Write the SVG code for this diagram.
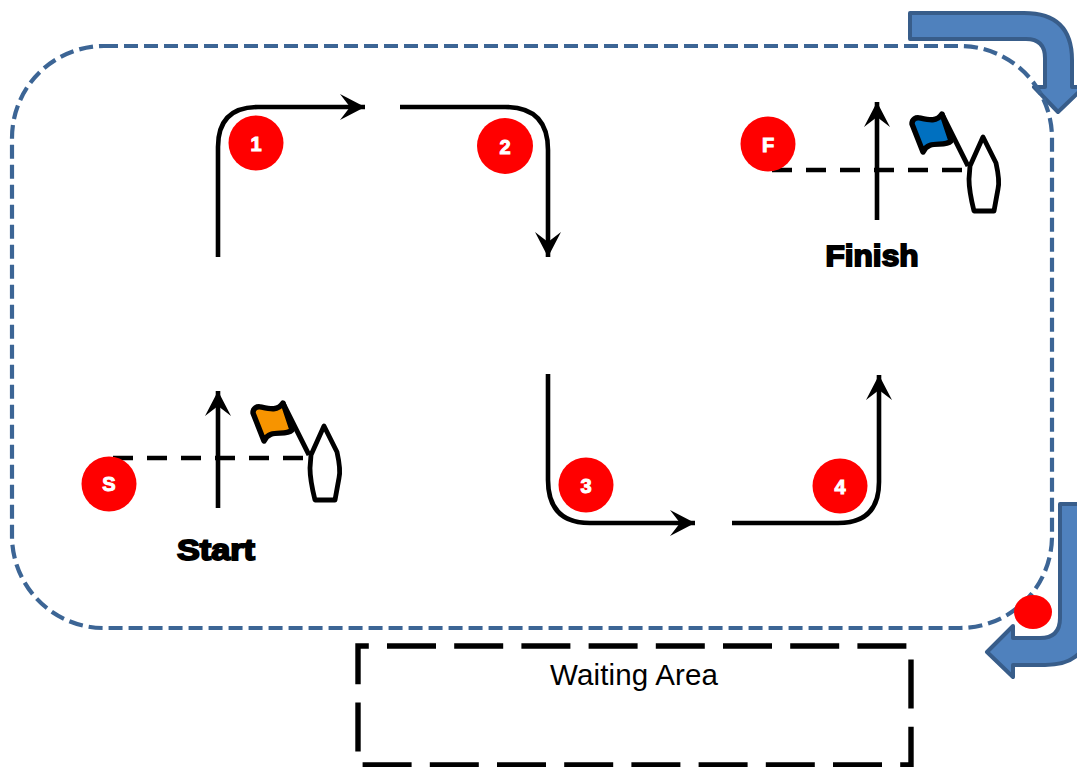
<svg xmlns="http://www.w3.org/2000/svg" width="1077" height="767" viewBox="0 0 1077 767">
<style>
.route{fill:none;stroke:#000;stroke-width:4.6}
.head{fill:#000;stroke:none}
.dash{fill:none;stroke:#000;stroke-width:4.4;stroke-dasharray:20 14}
.badge{fill:#f00}
.num{font-family:"Liberation Sans",Arial,sans-serif;font-weight:700;font-size:20px;fill:#fff;stroke:#fff;stroke-width:1;text-anchor:middle}
.big{font-family:"Liberation Sans",Arial,sans-serif;font-weight:700;font-size:29px;fill:#000;stroke:#000;stroke-width:1.8;text-anchor:middle}
.turn{fill:#4f81bd;stroke:#385d8a;stroke-width:4;stroke-linejoin:round}
.boat{fill:#fff;stroke:#000;stroke-width:4.8;stroke-linejoin:round}
.pole{fill:none;stroke:#000;stroke-width:5}
.flag{stroke:#000;stroke-width:5.4;stroke-linejoin:round}
</style>
<defs>
<marker id="a" markerUnits="userSpaceOnUse" markerWidth="27" markerHeight="27" refX="25" refY="13" orient="auto"><path class="head" d="M0,0 L25,13 L0,26 L10,13 Z"/></marker>
<g id="rig">
<path class="pole" d="M283,403 L309,455"/>
<path class="flag" d="M253,413 C253,408 257,406 261,407 C270,409 278,411 283,403 L292,430 C285,437 270,428 264,441 Z"/>
<path class="boat" d="M324,426 L337,452 Q341,470 339,478 L335,500 L315,500 Q310,480 310,468 L311,455 Z"/>
</g>
</defs>
<rect width="1077" height="767" fill="#fff"/>
<g id="turn-top">
<path class="turn" d="M910,13 H1024 Q1072,13 1072,60 V87 H1084 L1058,112 L1034,87 H1045 V58 Q1045,39 1026,39 H910 Z"/>
</g>
<g id="turn-bottom">
<path class="turn" d="M1090,504 H1060 V618 Q1060,638 1040,638 H1013 V626 L987,652 L1013,677 V665 H1045 Q1090,665 1090,620 Z"/>
</g>
<g id="course">
<rect x="12" y="46" width="1040" height="582" rx="92" ry="92" fill="none" stroke="#3c6595" stroke-width="4.2" stroke-dasharray="14 6"/>
</g>
<g id="marker"><ellipse class="badge" cx="1033" cy="612" rx="19" ry="17"/></g>
<g id="connectors">
<path class="route" marker-end="url(#a)" d="M218,257 V147 Q218,107 258,107 H365"/>
<path class="route" marker-end="url(#a)" d="M400,107 H505 Q548,107 548,150 V257"/>
<path class="route" marker-end="url(#a)" d="M548,374 V480 Q548,523 590,523 H695"/>
<path class="route" marker-end="url(#a)" d="M732,523 H838 Q879,523 879,482 V375"/>
<path class="route" marker-end="url(#a)" d="M218,508 V391"/>
<path class="route" marker-end="url(#a)" d="M877,220 V102"/>
<path class="dash" d="M113,458 H307"/>
<path class="dash" d="M772,170 H966"/>
</g>
<g id="mark-1"><circle class="badge" cx="256" cy="143" r="27.5"/><text class="num" x="256" y="151">1</text></g>
<g id="mark-2"><circle class="badge" cx="505" cy="146" r="28"/><text class="num" x="505" y="154">2</text></g>
<g id="mark-3"><circle class="badge" cx="586" cy="485" r="27.5"/><text class="num" x="586" y="493">3</text></g>
<g id="mark-4"><circle class="badge" cx="840" cy="486" r="27.5"/><text class="num" x="840" y="494">4</text></g>
<g id="mark-s"><circle class="badge" cx="109" cy="484" r="27.5"/><text class="num" x="109" y="491">S</text></g>
<g id="mark-f"><circle class="badge" cx="768" cy="144" r="27.5"/><text class="num" x="768" y="152">F</text></g>
<g id="start">
<use href="#rig" fill="#f79400"/>
<text class="big" x="216" y="560" textLength="78" lengthAdjust="spacingAndGlyphs">Start</text>
</g>
<g id="finish">
<use href="#rig" x="659" y="-289" fill="#0070c0"/>
<text class="big" x="872" y="266" textLength="93" lengthAdjust="spacingAndGlyphs">Finish</text>
</g>
<g id="waiting">
<path d="M387,646 H911 V765 H358 V646 Z" fill="none" stroke="#000" stroke-width="5.4" stroke-dasharray="49 18.2"/>
<text x="634" y="685" font-family="'Liberation Sans',Arial,sans-serif" font-size="29.5" textLength="168" text-anchor="middle" fill="#000">Waiting Area</text>
</g>
</svg>
